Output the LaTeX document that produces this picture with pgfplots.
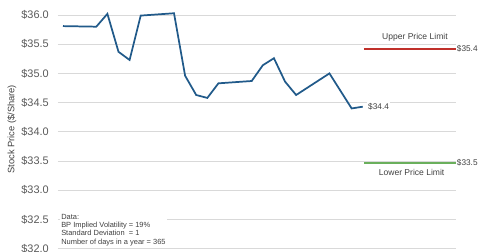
\documentclass[border=0pt]{standalone}
\usepackage{fontspec}
\setmainfont{Liberation Sans}
\usepackage{pgfplots}
\pgfplotsset{compat=1.18}
\usetikzlibrary{calc}
\definecolor{lineblue}{HTML}{215A8A}
\definecolor{upred}{HTML}{C0302A}
\definecolor{lowgreen}{HTML}{6AAF5C}
\definecolor{gridgray}{HTML}{D9D9D9}
\definecolor{ticktxt}{HTML}{595959}
\definecolor{txt}{HTML}{404040}
\begin{document}
\begin{tikzpicture}
\begin{axis}[
  name=ax,
  at={(0,0)}, anchor=south west,
  scale only axis,
  width=298.5pt, height=186.45pt,
  xmin=-0.45, xmax=35.4,
  ymin=32, ymax=36.257,
  axis line style={draw=none},
  clip=false,
  ytick={32,32.5,33,33.5,34,34.5,35,35.5,36},
  yticklabels={\$32.0,\$32.5,\$33.0,\$33.5,\$34.0,\$34.5,\$35.0,\$35.5,\$36.0},
  xtick=\empty,
  major tick length=0pt,
  ymajorgrids,
  grid style={gridgray, line width=0.75pt},
  yticklabel style={anchor=east, inner sep=0pt, xshift=-6.75pt, font=\fontsize{8.2pt}{9pt}\selectfont, text=ticktxt},
]
\addplot[lineblue, line width=1.3pt, mark=none] coordinates {
(0,35.81) (3,35.80) (4,36.02) (5,35.37) (6,35.23) (7,35.99)
(10,36.03) (11,34.96) (12,34.63) (13,34.58) (14,34.83)
(17,34.87) (18,35.14) (19,35.26) (20,34.86) (21,34.63)
(24,35.00) (26,34.40) (27,34.43)
};
\addplot[upred, line width=1.3pt, mark=none] coordinates {(27.1,35.42) (35.4,35.42)};
\addplot[lowgreen, line width=1.3pt, mark=none] coordinates {(27.1,33.47) (35.4,33.47)};
\node[anchor=west, fill=white, inner sep=1pt, font=\fontsize{6.2pt}{7pt}\selectfont, text=txt] at (axis cs:27.35,34.43) {\$34.4};
\node[anchor=west, inner sep=0.5pt, font=\fontsize{6.2pt}{7pt}\selectfont, text=txt] at (axis cs:35.4,35.42) {\$35.4};
\node[anchor=west, inner sep=0.5pt, font=\fontsize{6.2pt}{7pt}\selectfont, text=txt] at (axis cs:35.4,33.47) {\$33.5};
\node[inner sep=1pt, font=\fontsize{6.4pt}{7pt}\selectfont, text=txt] at (axis cs:31.7,35.62) {Upper Price Limit};
\node[inner sep=1pt, font=\fontsize{6.4pt}{7pt}\selectfont, text=txt] at (axis cs:31.4,33.30) {Lower Price Limit};
\node[anchor=north west, fill=white, inner sep=1pt, align=left, font=\fontsize{5.6pt}{6.1pt}\selectfont, text=txt] at (axis cs:-0.3,32.61) {Data:\\BP Implied Volatility = 19\%\\Standard Deviation \ = 1\\Number of days in a year = 365};
\node[rotate=90, font=\fontsize{7pt}{8pt}\selectfont, text=txt] at (axis description cs:-0.1156,0.48) {Stock Price (\$/Share)};
\end{axis}
\pgfresetboundingbox
\path[use as bounding box] ($(ax.south west)+(-43.5pt,-1.8pt)$) rectangle ++(360pt,188.25pt);
\end{tikzpicture}
\end{document}
